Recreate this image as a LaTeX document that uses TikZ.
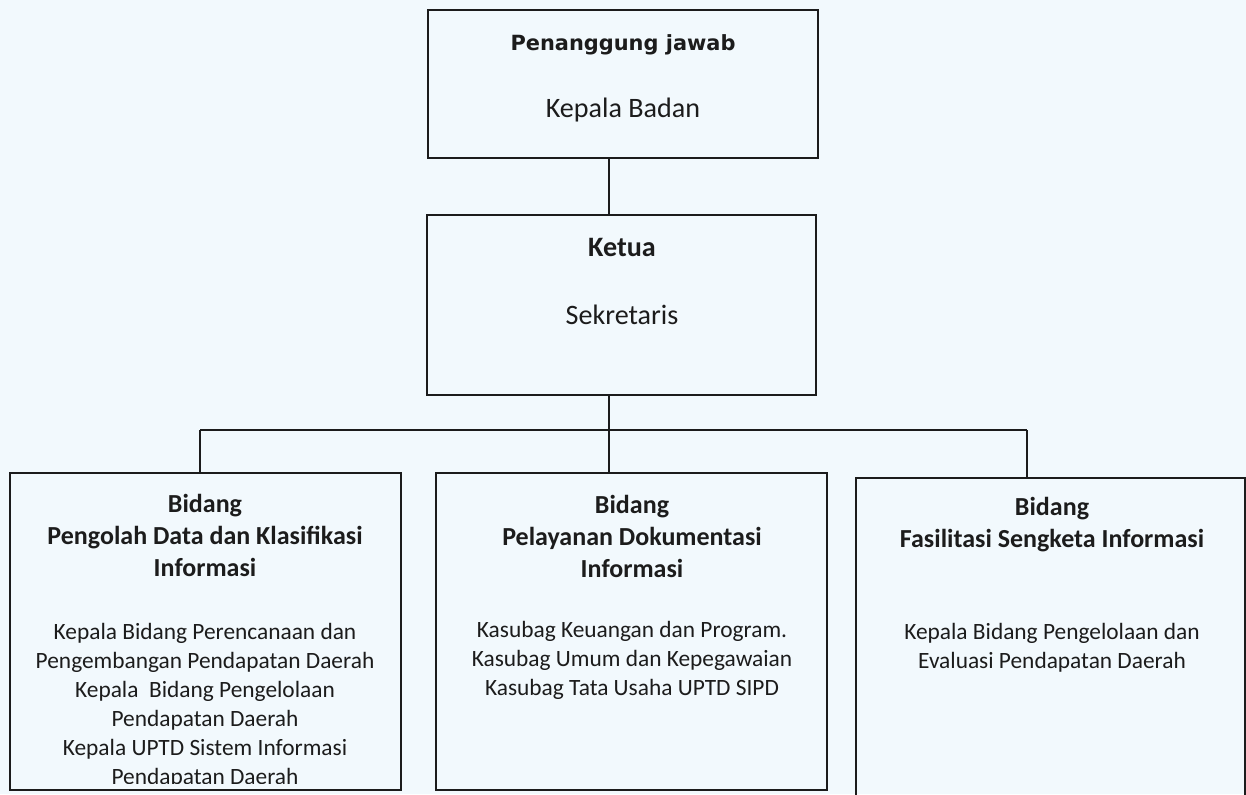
\documentclass[tikz,border=0pt]{standalone}
\usepackage{fontspec}
\setmainfont{Carlito}
\newfontfamily\headfont{DejaVu Sans}
\usepackage{xcolor}
\usepackage{tikz}
\usetikzlibrary{positioning,calc}
\definecolor{paper}{RGB}{242,249,253}
\definecolor{ink}{RGB}{28,28,28}

\tikzset{
  box/.style={draw=ink, line width=1.1pt, inner sep=0pt},
  link/.style={draw=ink, line width=1.1pt},
  bigtext/.style={text=ink, inner sep=0pt, font=\fontsize{16}{19}\selectfont},
  headtext/.style={text=ink, inner sep=0pt, font=\headfont\bfseries\fontsize{11.9}{14}\selectfont},
  titletext/.style={text=ink, inner sep=0pt, align=center, font=\bfseries\fontsize{14.8}{18.2}\selectfont},
  bodytext/.style={text=ink, inner sep=0pt, align=center, font=\fontsize{13.3}{16.5}\selectfont}
}

\begin{document}
\begin{tikzpicture}[x=0.02cm, y=-0.02cm, node distance=1cm, auto]
        \fill[paper] (0,0) rectangle (1246,794);
        \useasboundingbox (0,0) rectangle (1246,794);

        % Penanggung jawab
        \node[box, minimum width=7.8cm, minimum height=2.96cm] (kb) at (623,84) {};
        \node[headtext] (pj) at (623,45) {Penanggung jawab};
        \node[bigtext] (kbd) at (623,110) {Kepala Badan};

        % Ketua
        \node[box, minimum width=7.78cm, minimum height=3.6cm] (ks) at (621.5,305) {};
        \node[bigtext, font=\bfseries\fontsize{16}{19}\selectfont] (ket) at (622,247) {Ketua};
        \node[bigtext] (sek) at (622,315) {Sekretaris};

        % Bidang
        \node[box, minimum width=7.82cm, minimum height=6.34cm] (bid1) at (205.5,631.5) {};
        \node[box, minimum width=7.82cm, minimum height=6.34cm] (bid2) at (631.5,631.5) {};
        \node[box, minimum width=7.78cm, minimum height=6.44cm] (bid3) at (1050.5,639) {};

        \node[titletext] (t1) at (205,535) {Bidang\\Pengolah Data dan Klasifikasi\\Informasi};
        \begin{scope}
          \clip (bid1.north west) rectangle ($(bid1.south east)+(0,-7)$);
          \node[bodytext] (d1) at (205,706) {Kepala Bidang Perencanaan dan\\Pengembangan Pendapatan Daerah\\Kepala\ \ Bidang Pengelolaan\\Pendapatan Daerah\\Kepala UPTD Sistem Informasi\\Pendapatan Daerah};
        \end{scope}

        \node[titletext] (t2) at (632,536) {Bidang\\Pelayanan Dokumentasi\\Informasi};
        \node[bodytext] (d2) at (632,660) {Kasubag Keuangan dan Program.\\Kasubag Umum dan Kepegawaian\\Kasubag Tata Usaha UPTD SIPD};

        \node[titletext] (t3) at (1052,525) {Bidang\\Fasilitasi Sengketa Informasi};
        \node[bodytext] (d3) at (1052,648) {Kepala Bidang Pengelolaan dan\\Evaluasi Pendapatan Daerah};

        % Garis
        \coordinate (stem) at (609,430);
        \coordinate (busL) at (200,430);
        \coordinate (busR) at (1027,430);
        \draw[link] (stem |- kb.south) -- (stem |- ks.north);
        \draw[link] (stem |- ks.south) -- (stem);
        \draw[link] (busL) -- (busR);
        \draw[link] (busL) -- (busL |- bid1.north);
        \draw[link] (stem) -- (stem |- bid2.north);
        \draw[link] (busR) -- (busR |- bid3.north);
    \end{tikzpicture}
\end{document}
